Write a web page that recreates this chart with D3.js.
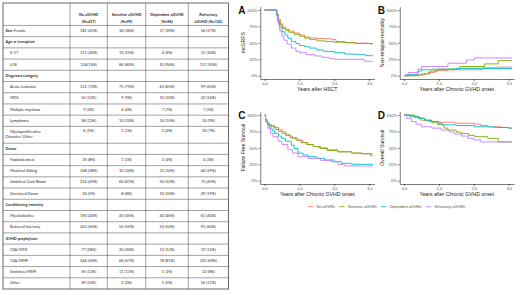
<!DOCTYPE html>
<html>
<head>
  <meta charset="utf-8">
  <title>aGVHD response groups</title>
  <style>
    html, body { margin: 0; padding: 0; background: #fff; }
    svg { display: block; }
    .tbl text { font-family: Lato, "Liberation Sans", sans-serif; font-size: 3.85px; fill: #2b2b2b; }
    .tbl .bold { font-weight: bold; }
    .plot text { font-family: "Liberation Sans", Arial, sans-serif; }
  </style>
</head>
<body>
  <svg id="svg" width="520" height="295"></svg>

  <script src="https://d3js.org/d3.v7.min.js"></script>
  <script>
    // ---- table data ----
    const headerLines = [["No aGVHD", "(N=437)"], ["Sensitive aGVHD", "(N=99)"], ["Dependent aGVHD", "(N=96)"], ["Refractory", "aGVHD (N=152)"]]
    const rowLabels = ["Sex:|Female", "Age at transplant", "0-17", "≥18", "Diagnosis category", "Acute leukemia", "MDS",
      "Multiple myeloma", "Lymphoma", "Myeloproliferative\nDisorder/ Other", "Donor", "Haploidentical", "Matched Sibling",
      "Umbilical Cord Blood", "Unrelated Donor", "Conditioning intensity", "Myeloablative", "Reduced Intensity",
      "GVHD prophylaxis", "CSA/MTX", "CSA/MMF", "Sirolimus/MMF", "Other"]
    const sectionRows = ["Age at transplant", "Diagnosis category", "Donor", "Conditioning intensity", "GVHD prophylaxis"]
    const colNo = ["181 (41%)", "", "113 (26%)", "324(74%)", "", "312 (72%)", "52 (12%)", "9 (2%)", "58 (13%)", "6 (1%)", "",
      "35 (8%)", "168 (38%)", "214 (49%)", "20 (5%)", "", "194 (44%)", "243 (56%)", "", "77 (18%)", "246 (56%)", "55 (13%)", "59 (14%)"]
    const colSensitive = ["36 (36%)", "", "15 (15%)", "84 (85%)", "", "75 (75%)", "9 (9%)", "4 (4%)", "10 (10%)", "1 (1%)", "",
      "1 (1%)", "30 (30%)", "60 (61%)", "8 (8%)", "", "45 (45%)", "54 (55%)", "", "20 (20%)", "66 (67%)", "11 (11%)", "2 (2%)"]
    const colDependent = ["37 (39%)", "", "4 (4%)", "92 (96%)", "", "63 (65%)", "10 (10%)", "7 (7%)", "14 (15%)", "2 (2%)", "",
      "3 (3%)", "33 (34%)", "50 (52%)", "10 (10%)", "", "44 (46%)", "52 (54%)", "", "12 (12%)", "78 (81%)", "1 (1%)", "5 (5%)"]
    const colRefractory = ["56 (37%)", "", "15 (10%)", "137 (90%)", "", "99 (65%)", "22 (14%)", "7 (5%)", "14 (9%)", "10 (7%)", "",
      "4 (3%)", "44 (29%)", "75 (49%)", "29 (19%)", "", "61 (40%)", "91 (60%)", "", "19 (12%)", "105 (69%)", "12 (8%)", "16 (11%)"]

    // ---- curve data: [years, probability], group order No / Sensitive / Dependent / Refractory ----
    const groups = ["No aGVHD", "Sensitive aGVHD", "Dependent aGVHD", "Refractory aGVHD"]
    const mcgrfs = [
      [[0, 1], [0.35, 0.94], [0.40, 0.86], [0.45, 0.79], [0.52, 0.74], [0.6, 0.71], [0.7, 0.68], [0.85, 0.65], [1.0, 0.62], [1.15, 0.59], [1.3, 0.575], [1.5, 0.565], [1.75, 0.56], [1.95, 0.55], [2.05, 0.52], [2.3, 0.505], [2.6, 0.495], [3.0, 0.49], [3.1, 0.49]],
      [[0, 1], [0.35, 0.93], [0.40, 0.84], [0.45, 0.77], [0.52, 0.72], [0.6, 0.69], [0.7, 0.66], [0.85, 0.63], [1.0, 0.60], [1.15, 0.57], [1.3, 0.55], [1.5, 0.53], [1.75, 0.52], [2.0, 0.51], [2.3, 0.50], [2.6, 0.49], [3.05, 0.48], [3.1, 0.48]],
      [[0, 1], [0.34, 0.92], [0.38, 0.82], [0.43, 0.74], [0.5, 0.67], [0.58, 0.62], [0.67, 0.57], [0.77, 0.52], [0.9, 0.49], [1.0, 0.46], [1.15, 0.44], [1.3, 0.42], [1.5, 0.39], [1.7, 0.37], [2.0, 0.35], [2.3, 0.33], [2.6, 0.32], [2.9, 0.305], [3.1, 0.305]],
      [[0, 1], [0.36, 0.90], [0.40, 0.78], [0.44, 0.68], [0.5, 0.60], [0.56, 0.54], [0.65, 0.48], [0.77, 0.42], [0.9, 0.37], [1.0, 0.35], [1.2, 0.32], [1.45, 0.30], [1.65, 0.28], [1.85, 0.26], [2.0, 0.25], [2.85, 0.22], [3.1, 0.22]]
    ]
    const nrm = [
      [[0, 0], [0.35, 0.015], [0.5, 0.03], [0.69, 0.05], [0.88, 0.08], [1.26, 0.09], [2.26, 0.12], [2.6, 0.13], [3.1, 0.13]],
      [[0, 0], [0.45, 0.01], [0.59, 0.025], [0.74, 0.07], [0.97, 0.10], [1.6, 0.14], [2.31, 0.18], [2.7, 0.23], [3.1, 0.23]],
      [[0, 0], [0.12, 0.02], [0.4, 0.07], [0.5, 0.09], [0.8, 0.10], [1.5, 0.11], [3.1, 0.11]],
      [[0, 0], [0.05, 0.02], [0.12, 0.05], [0.40, 0.10], [0.50, 0.14], [1.26, 0.19], [1.79, 0.24], [2.02, 0.27], [3.1, 0.27]]
    ]
    const ffs = [
      [[0, 1], [0.03, 0.92], [0.08, 0.87], [0.15, 0.84], [0.3, 0.81], [0.4, 0.78], [0.5, 0.75], [0.6, 0.71], [0.7, 0.68], [0.8, 0.65], [0.95, 0.61], [1.1, 0.58], [1.25, 0.55], [1.4, 0.52], [1.55, 0.50], [1.8, 0.47], [2.1, 0.44], [2.5, 0.42], [2.8, 0.41], [3.1, 0.41]],
      [[0, 1], [0.03, 0.90], [0.1, 0.85], [0.2, 0.82], [0.3, 0.78], [0.4, 0.75], [0.5, 0.72], [0.6, 0.69], [0.75, 0.65], [0.9, 0.62], [1.05, 0.58], [1.2, 0.55], [1.4, 0.52], [1.6, 0.49], [1.8, 0.46], [2.1, 0.44], [2.5, 0.42], [2.8, 0.41], [3.05, 0.38], [3.1, 0.38]],
      [[0, 1], [0.03, 0.93], [0.08, 0.86], [0.15, 0.80], [0.22, 0.76], [0.29, 0.72], [0.4, 0.68], [0.48, 0.645], [0.6, 0.60], [0.77, 0.54], [0.85, 0.49], [0.96, 0.42], [1.1, 0.39], [1.25, 0.365], [1.5, 0.34], [1.72, 0.315], [2.0, 0.29], [2.2, 0.265], [2.5, 0.25], [3.1, 0.24]],
      [[0, 1], [0.03, 0.90], [0.1, 0.80], [0.17, 0.72], [0.24, 0.67], [0.39, 0.60], [0.5, 0.55], [0.67, 0.47], [0.8, 0.42], [0.96, 0.365], [1.25, 0.34], [1.6, 0.31], [1.91, 0.29], [2.1, 0.25], [2.3, 0.225], [3.1, 0.225]]
    ]
    const os = [
      [[0, 1], [0.1, 0.99], [0.3, 0.96], [0.48, 0.92], [0.7, 0.90], [0.97, 0.89], [1.45, 0.875], [2.02, 0.86], [2.2, 0.84], [2.4, 0.82], [2.8, 0.81], [3.0, 0.80], [3.1, 0.80]],
      [[0, 1], [0.31, 0.975], [0.45, 0.95], [0.59, 0.92], [0.8, 0.88], [0.97, 0.85], [1.15, 0.80], [1.26, 0.77], [1.5, 0.74], [1.64, 0.72], [1.85, 0.69], [2.02, 0.67], [2.4, 0.645], [2.7, 0.59], [3.1, 0.59]],
      [[0, 1], [0.15, 0.98], [0.4, 0.95], [0.6, 0.92], [0.78, 0.90], [1.0, 0.87], [1.1, 0.85], [1.5, 0.84], [2.02, 0.82], [2.6, 0.81], [3.0, 0.80], [3.1, 0.80]],
      [[0, 1], [0.07, 0.95], [0.21, 0.90], [0.35, 0.86], [0.5, 0.82], [0.8, 0.80], [1.07, 0.77], [1.3, 0.74], [1.45, 0.71], [1.65, 0.68], [1.84, 0.645], [2.0, 0.62], [2.2, 0.59], [3.1, 0.59]]
    ]
    const xTicks = [0, 1, 2, 3]
    const yTicks = [0, 0.25, 0.5, 0.75, 1]

    const colors = ["#F8766D", "#7CAE00", "#00BFC4", "#C77CFF"]
    const svg = d3.select("#svg")

    // ---- table ----
    const colEdges = [3, 70, 107.3, 145.7, 188.3, 228.4]
    const cols = [colNo, colSensitive, colDependent, colRefractory]
    const weights = [2].concat(rowLabels.map(l => 1 + 0.5 * (l.split("\n").length - 1)))
    const cum = d3.cumsum(weights)
    const rowY = d3.scaleLinear().domain([0, cum[cum.length - 1]]).range([3, 289])
    const tbl = svg.append("g").attr("class", "tbl")

    tbl.selectAll(".hl").data(cum.slice(0, -1)).join("line")
      .attr("x1", colEdges[0]).attr("x2", colEdges[5])
      .attr("y1", d => rowY(d)).attr("y2", d => rowY(d))
      .attr("stroke", "#555").attr("stroke-width", 0.55)
    tbl.selectAll(".vl").data(colEdges.slice(1, -1)).join("line")
      .attr("x1", d => d).attr("x2", d => d)
      .attr("y1", rowY(0)).attr("y2", rowY(cum[cum.length - 1]))
      .attr("stroke", "#555").attr("stroke-width", 0.55)
    tbl.append("rect")
      .attr("x", colEdges[0]).attr("y", rowY(0))
      .attr("width", colEdges[5] - colEdges[0]).attr("height", rowY(cum[cum.length - 1]) - rowY(0))
      .attr("fill", "none").attr("stroke", "#444").attr("stroke-width", 0.8)

    // header
    headerLines.forEach((lines, i) => {
      const cx = (colEdges[i + 1] + colEdges[i + 2]) / 2
      lines.forEach((t, j) => {
        tbl.append("text").attr("class", "bold")
          .attr("x", cx).attr("y", rowY(cum[0]) - 10.2 + j * 7)
          .attr("text-anchor", "middle").attr("dominant-baseline", "middle")
          .text(t)
      })
    })

    // body rows
    rowLabels.forEach((label, r) => {
      const top = rowY(cum[r]), bottom = rowY(cum[r + 1])
      const mid = (top + bottom) / 2
      const isSection = sectionRows.includes(label)
      const lines = label.split("\n")
      if (label.includes("|")) {
        const [a, b] = label.split("|")
        const t = tbl.append("text").attr("x", 5.5).attr("y", mid).attr("dominant-baseline", "middle")
        t.append("tspan").attr("class", "bold").text(a)
        t.append("tspan").text("  " + b)
      } else {
        lines.forEach((l, j) => {
          tbl.append("text")
            .attr("class", isSection ? "bold" : null)
            .attr("x", isSection || j > 0 ? 5.5 : 10)
            .attr("y", mid + (j - (lines.length - 1) / 2) * 5.4)
            .attr("dominant-baseline", "middle")
            .text(l)
        })
      }
      cols.forEach((col, c) => {
        if (!col[r]) return
        tbl.append("text")
          .attr("x", (colEdges[c + 1] + colEdges[c + 2]) / 2)
          .attr("y", lines.length > 1 ? top + 5 : mid)
          .attr("text-anchor", "middle").attr("dominant-baseline", "middle")
          .text(col[r])
      })
    })

    // ---- survival panels ----
    const panels = [
      { letter: "A", series: mcgrfs, ytitle: "mcGRFS", xtitle: "Years after HSCT", col: 0, row: 0 },
      { letter: "B", series: nrm, ytitle: "Non-relapse mortality", xtitle: "Years after Chronic GVHD onset", col: 1, row: 0 },
      { letter: "C", series: ffs, ytitle: "Failure Free Survival", xtitle: "Years after Chronic GVHD onset", col: 0, row: 1 },
      { letter: "D", series: os, ytitle: "Overall Survival", xtitle: "Years after Chronic GVHD onset", col: 1, row: 1 }
    ]

    panels.forEach(p => {
      const x0 = 260.3 + p.col * 139.5
      const y0 = 6.7 + p.row * 105
      const x = d3.scaleLinear().domain([-0.12, 3.15]).range([x0, x0 + 114.1])
      const y = d3.scaleLinear().domain([-0.05, 1.05]).range([y0 + 72.3, y0])
      const g = svg.append("g").attr("class", "plot")

      const line = d3.line().x(d => x(d[0])).y(d => y(d[1])).curve(d3.curveStepAfter)
      p.series.forEach((s, i) => {
        g.append("path").attr("d", line(s))
          .attr("fill", "none").attr("stroke", colors[i]).attr("stroke-width", 0.9)
      })

      const xAxis = d3.axisBottom(x).tickValues(xTicks).tickSizeInner(2).tickSizeOuter(0).tickPadding(0.8)
      const yAxis = d3.axisLeft(y).tickValues(yTicks).tickFormat(d3.format(".0%")).tickSizeInner(2).tickSizeOuter(0).tickPadding(1)
      ;[g.append("g").attr("transform", `translate(0,${y0 + 72.3})`).call(xAxis),
        g.append("g").attr("transform", `translate(${x0},0)`).call(yAxis)].forEach(ax => {
        ax.attr("font-size", 4).attr("font-family", "Liberation Sans, Arial, sans-serif")
        ax.selectAll("path, line").attr("stroke", "#222").attr("stroke-width", 0.6)
        ax.selectAll("text").attr("fill", "#4d4d4d")
      })

      g.append("text")
        .attr("x", x0 + 57).attr("y", y0 + 84.2)
        .attr("text-anchor", "middle").attr("font-size", 5.2).attr("fill", "#222")
        .text(p.xtitle)
      g.append("text")
        .attr("transform", `translate(${x0 - 15.5},${y0 + 36}) rotate(-90)`)
        .attr("text-anchor", "middle").attr("font-size", 5.2).attr("fill", "#222")
        .text(p.ytitle)
      g.append("text")
        .attr("x", x0 - 22).attr("y", y0 + 7.5)
        .attr("font-size", 10).attr("font-weight", "bold").attr("fill", "#111")
        .text(p.letter)
    })

    // ---- legend ----
    const legend = svg.append("g").attr("class", "plot")
    let lx = 308
    groups.forEach((name, i) => {
      legend.append("line")
        .attr("x1", lx).attr("x2", lx + 5).attr("y1", 206.7).attr("y2", 206.7)
        .attr("stroke", colors[i]).attr("stroke-width", 0.9)
      const t = legend.append("text")
        .attr("x", lx + 8.5).attr("y", 206.7).attr("dominant-baseline", "middle")
        .attr("font-size", 3.7).attr("fill", "#4d4d4d")
        .text(name)
      lx += 8.5 + t.node().getComputedTextLength() + 4.5
    })
  </script>
</body>
</html>
